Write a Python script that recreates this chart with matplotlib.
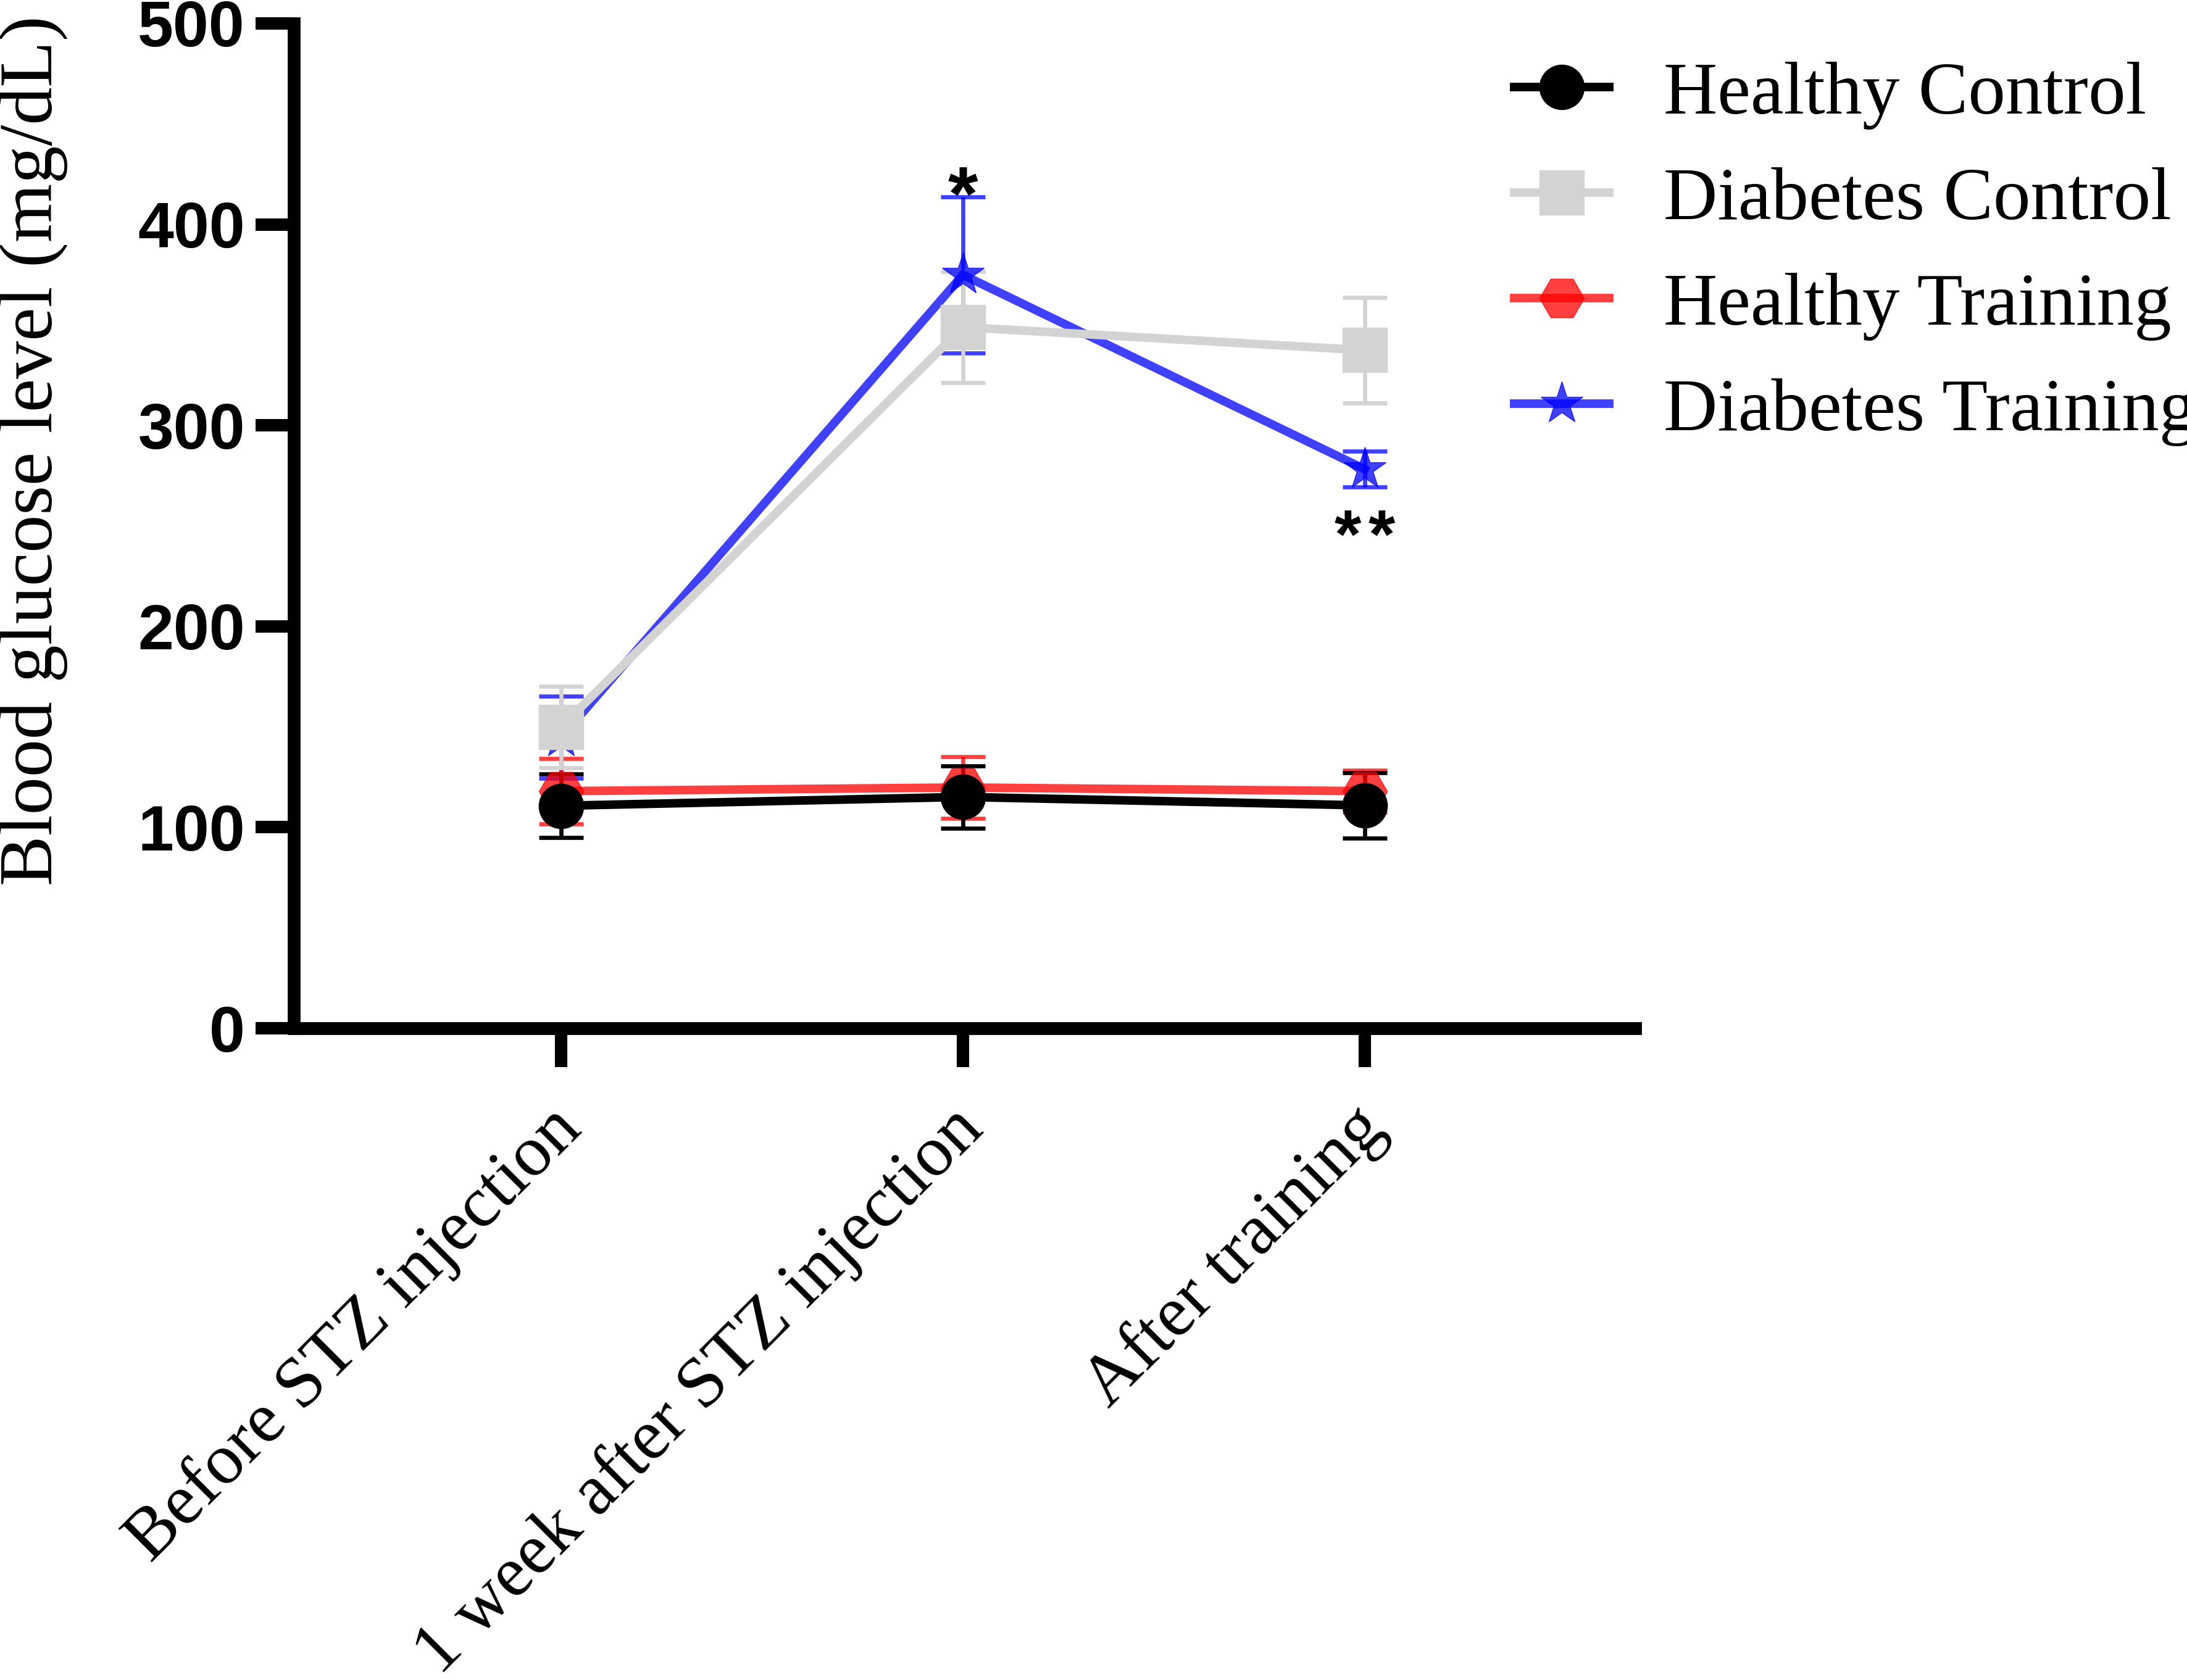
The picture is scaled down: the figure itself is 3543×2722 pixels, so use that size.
import matplotlib
matplotlib.use("Agg")
import matplotlib.pyplot as plt
from matplotlib.transforms import ScaledTranslation
import numpy as np

# ---- data ----
categories = ["Before STZ injection", "1 week after STZ injection", "After training"]
series_names = ["Healthy Control", "Diabetes Control", "Healthy Training", "Diabetes Training"]
hc_mean = [110.7, 115.1, 110.9]
hc_err = [15.8, 15.5, 16.4]
dc_mean = [149.9, 348.9, 337.4]
dc_err = [20.3, 27.6, 26.3]
ht_mean = [118.0, 119.8, 118.0]
ht_err = [16.3, 15.4, 10.5]
dt_mean = [144.8, 374.9, 278.2]
dt_err = [20.4, 38.8, 9.0]
y_ticks = [0, 100, 200, 300, 400, 500]

SERIF = "Liberation Serif"
SANS = "Liberation Sans"

fig = plt.figure(figsize=(35.43, 27.22), dpi=100)
ax = fig.add_axes([0.13435, 0.38795, 0.61332, 0.59809])

x = np.arange(len(categories))

styles = [
    dict(name=series_names[0], mean=hc_mean, err=hc_err, color="black", alpha=1.0, marker="o"),
    dict(name=series_names[1], mean=dc_mean, err=dc_err, color="#D3D3D3", alpha=1.0, marker="s"),
    dict(name=series_names[2], mean=ht_mean, err=ht_err, color="red", alpha=0.75, marker="H"),
    dict(name=series_names[3], mean=dt_mean, err=dt_err, color="blue", alpha=0.75, marker="*"),
]

# error bars first (reverse order), then lines + markers (reverse order)
for s in reversed(styles):
    ax.errorbar(x, s["mean"], yerr=s["err"], fmt="none", ecolor=s["color"], alpha=s["alpha"],
                elinewidth=4.8, capsize=26, capthick=4.8, zorder=2)
handles = {}
for s in reversed(styles):
    ln, = ax.plot(x, s["mean"], color=s["color"], alpha=s["alpha"], lw=10, marker=s["marker"],
                  markersize=52, markeredgewidth=1.0, markeredgecolor=s["color"],
                  markerfacecolor=s["color"], label=s["name"], zorder=3, solid_joinstyle="miter")
    handles[s["name"]] = ln

# significance marks
ax.annotate("*", xy=(1, dt_mean[1] + dt_err[1]), xytext=(0, -27), textcoords="offset points",
            ha="center", va="baseline", fontsize=90, fontweight="bold", family=SANS, zorder=5)
for dx in (-20, 20):
    ax.annotate("*", xy=(2, dt_mean[2] - dt_err[2]), xytext=(dx, -82), textcoords="offset points",
                ha="center", va="baseline", fontsize=80, fontweight="bold", family=SANS, zorder=5)

# axes styling
ax.set_xlim(-0.665, 2.673)
ax.set_ylim(0, 500)
ax.set_yticks(y_ticks)
ax.set_yticklabels([str(v) for v in y_ticks], fontsize=75, fontweight="bold", family=SANS)
ax.set_xticks(x)
ax.set_xticklabels([])

# rotated category labels placed under each tick
lab_tr = ax.get_xaxis_transform() + ScaledTranslation(-16 / 72, -(45 + 33) / 72, fig.dpi_scale_trans)
for xi, lab in zip(x, categories):
    ax.text(xi, 0, lab, transform=lab_tr, fontsize=84, family=SERIF, rotation=45,
            ha="right", va="top", rotation_mode="anchor", clip_on=False)

ax.tick_params(axis="both", direction="out", length=45, width=14.5, color="black")
ax.tick_params(axis="y", pad=12)
for side in ("top", "right"):
    ax.spines[side].set_visible(False)
for side in ("left", "bottom"):
    ax.spines[side].set_linewidth(15)
    ax.spines[side].set_capstyle("projecting")

fig.text(0.01538, 0.7318, "Blood glucose level (mg/dL)", rotation=90, ha="center", va="center",
         fontsize=88, family=SERIF)

leg = ax.legend([handles[n] for n in series_names], series_names, loc="upper left",
                bbox_to_anchor=(0.6924, 0.9636), bbox_transform=fig.transFigure,
                frameon=False, borderpad=0, borderaxespad=0, handlelength=1.27,
                handletextpad=0.73, labelspacing=0.5, numpoints=1,
                prop={"family": SERIF, "size": 87})

fig.savefig("out.png", dpi=100, facecolor="white")
